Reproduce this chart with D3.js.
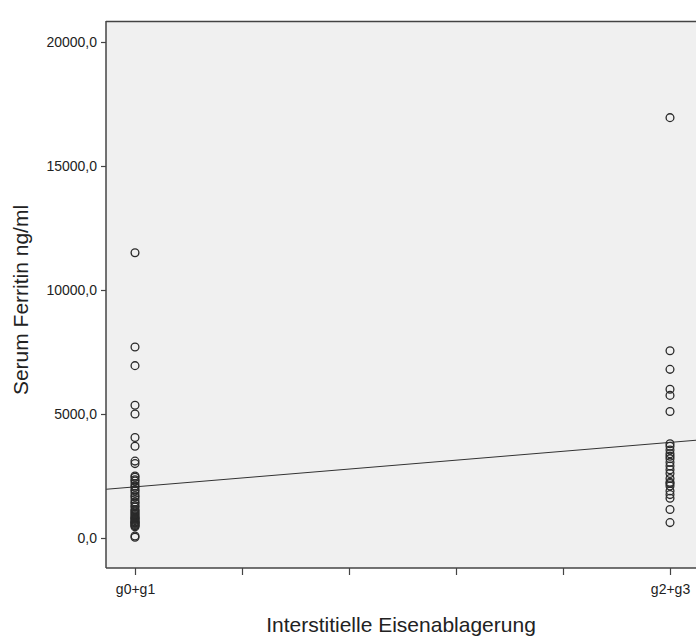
<!DOCTYPE html>
<html>
<head>
<meta charset="utf-8">
<script src="https://cdn.jsdelivr.net/npm/d3@7/dist/d3.min.js"></script>
<style>
  html, body { margin: 0; padding: 0; background: #ffffff; }
  svg { display: block; font-family: "Liberation Sans", Arial, sans-serif; }
</style>
</head>
<body>
<svg id="chart" width="696" height="639"></svg>
<script>
// Group categories (coded 1 and 2 on the x axis)
const categories = ["g0+g1", "g2+g3"];
const categoryCodes = [1, 2];

// Serum ferritin (ng/ml) per patient, by group
const ferritinG0G1 = [
  11500, 7700, 6950, 5350, 5000, 4050, 3700, 3100, 3000,
  2500, 2450, 2350, 2300, 2200, 2100, 2050, 1950, 1900, 1800, 1700, 1650,
  1550, 1450, 1400, 1300, 1250, 1150, 1100, 1050, 1000, 950, 900, 850,
  800, 800, 750, 700, 650, 650, 600, 600, 550, 500, 500, 450,
  80, 30
];
const ferritinG2G3 = [
  16950, 7550, 6800, 6000, 5750, 5100,
  3800, 3700, 3550, 3400, 3300, 3200, 3050, 2900, 2750, 2600, 2400, 2250,
  2200, 2100, 1900, 1750, 1600,
  1150, 620
];

// Axis ticks
const yTicks = [0, 5000, 10000, 15000, 20000];
const xTicks = [1, 1.2, 1.4, 1.6, 1.8, 2];

const svg = d3.select("#chart");

// Plot frame
const frame = { left: 106, top: 21, right: 700, bottom: 568 };

const x = d3.scaleLinear().domain([1, 2]).range([135, 670]);
const y = d3.scaleLinear().domain([0, 20000]).range([538, 42]);

const points = [];
ferritinG0G1.forEach(v => points.push({ x: categoryCodes[0], y: v }));
ferritinG2G3.forEach(v => points.push({ x: categoryCodes[1], y: v }));

// Background panel
svg.append("rect")
  .attr("x", frame.left).attr("y", frame.top)
  .attr("width", frame.right - frame.left)
  .attr("height", frame.bottom - frame.top)
  .attr("fill", "#f0f0f0");

// Top border of panel
svg.append("line")
  .attr("x1", frame.left).attr("x2", frame.right)
  .attr("y1", frame.top + 0.5).attr("y2", frame.top + 0.5)
  .attr("stroke", "#444").attr("stroke-width", 1.5);

svg.append("clipPath").attr("id", "plotclip")
  .append("rect")
  .attr("x", frame.left).attr("y", frame.top)
  .attr("width", frame.right - frame.left)
  .attr("height", frame.bottom - frame.top);

// Least-squares fit line
const mx = d3.mean(points, d => d.x);
const my = d3.mean(points, d => d.y);
const sxy = d3.sum(points, d => (d.x - mx) * (d.y - my));
const sxx = d3.sum(points, d => (d.x - mx) * (d.x - mx));
const slope = sxy / sxx;
const intercept = my - slope * mx;
const xl = x.invert(frame.left), xr = x.invert(frame.right);

const plot = svg.append("g").attr("clip-path", "url(#plotclip)");

plot.append("line")
  .attr("x1", x(xl)).attr("y1", y(intercept + slope * xl))
  .attr("x2", x(xr)).attr("y2", y(intercept + slope * xr))
  .attr("stroke", "#333").attr("stroke-width", 1);

plot.selectAll("circle.pt")
  .data(points)
  .enter().append("circle")
  .attr("class", "pt")
  .attr("cx", d => x(d.x))
  .attr("cy", d => y(d.y))
  .attr("r", 3.9)
  .attr("fill", "none")
  .attr("stroke", "#2a2a2a")
  .attr("stroke-width", 1.3);

// Y axis
const yAxis = d3.axisLeft(y)
  .tickValues(yTicks)
  .tickSize(5)
  .tickFormat(d => d3.format(".1f")(d).replace(".", ","));
const gy = svg.append("g")
  .attr("transform", `translate(${frame.left},0)`)
  .call(yAxis);
gy.select(".domain").remove();
gy.append("line")
  .attr("x1", 0).attr("x2", 0)
  .attr("y1", frame.top).attr("y2", frame.bottom)
  .attr("stroke", "#444").attr("stroke-width", 1.5);
gy.selectAll(".tick line").attr("stroke", "#444").attr("stroke-width", 1.2);
gy.selectAll(".tick text")
  .attr("x", -9)
  .attr("fill", "#222")
  .style("font-size", "14px")
  .style("font-family", "Liberation Sans, Arial, sans-serif");

// X axis
const labelFor = { 1: categories[0], 2: categories[1] };
const xAxis = d3.axisBottom(x)
  .tickValues(xTicks)
  .tickSize(7)
  .tickFormat(d => labelFor[d] || "");
const gx = svg.append("g")
  .attr("transform", `translate(0,${frame.bottom})`)
  .call(xAxis);
gx.select(".domain").remove();
gx.append("line")
  .attr("x1", frame.left).attr("x2", frame.right)
  .attr("y1", 0).attr("y2", 0)
  .attr("stroke", "#444").attr("stroke-width", 1.5);
gx.selectAll(".tick line").attr("stroke", "#444").attr("stroke-width", 1.2);
gx.selectAll(".tick text")
  .attr("y", 16)
  .attr("fill", "#222")
  .style("font-size", "14px")
  .style("font-family", "Liberation Sans, Arial, sans-serif");

// Axis titles
svg.append("text")
  .attr("x", 401).attr("y", 632)
  .attr("text-anchor", "middle")
  .attr("fill", "#222")
  .style("font-size", "21px")
  .text("Interstitielle Eisenablagerung");

svg.append("text")
  .attr("transform", "translate(28,300) rotate(-90)")
  .attr("text-anchor", "middle")
  .attr("fill", "#222")
  .style("font-size", "21px")
  .text("Serum Ferritin ng/ml");
</script>
</body>
</html>
